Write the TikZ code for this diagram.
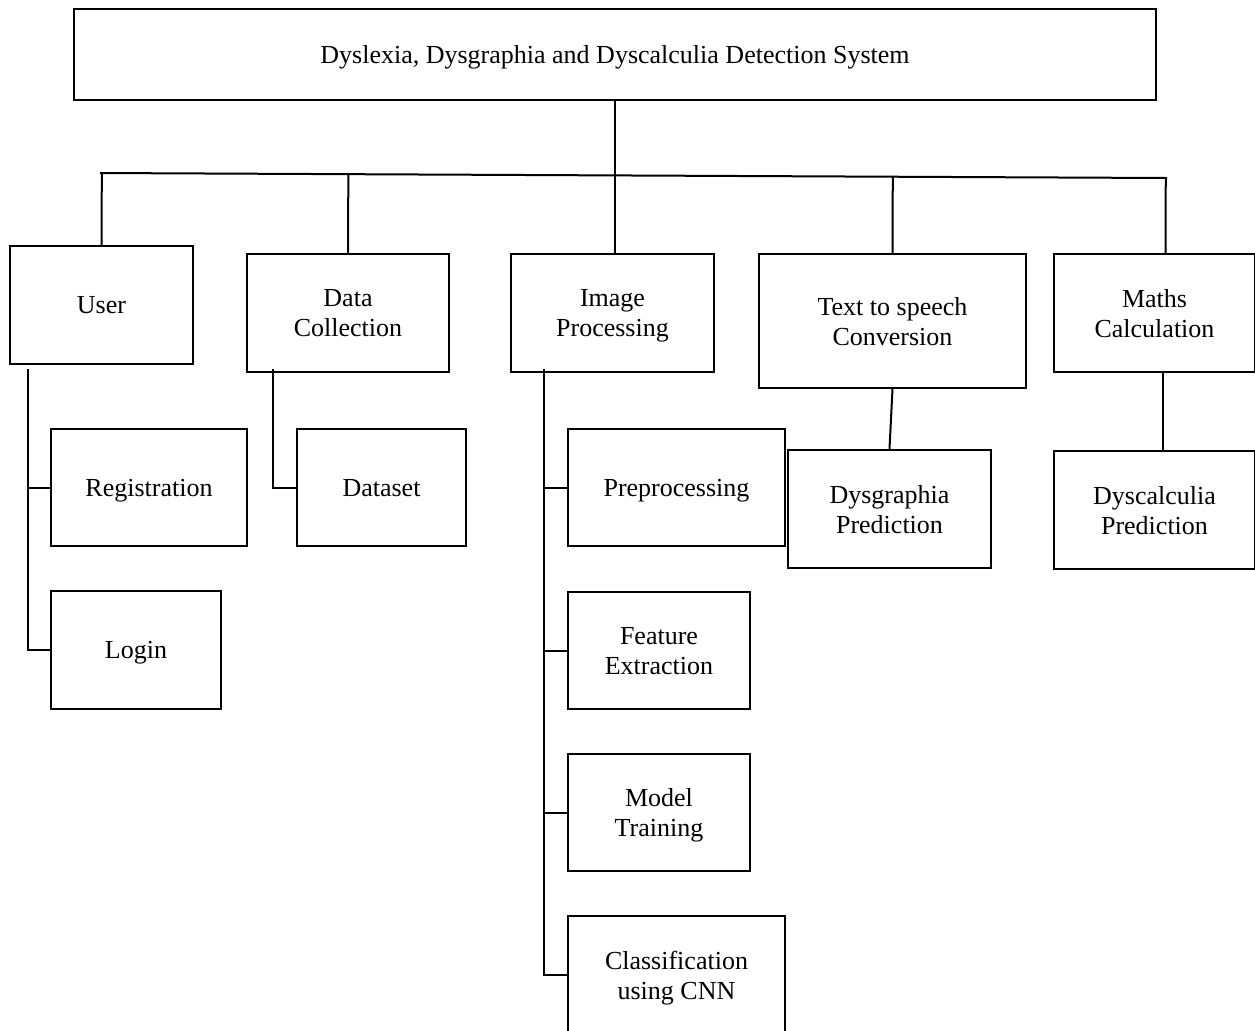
\documentclass[tikz,border=0pt]{standalone}
\usepackage{fontspec}
\setmainfont{Liberation Serif}
\usetikzlibrary{positioning, calc}
\tikzset{
  blk/.style 2 args={draw, line width=1pt, minimum width=#1*0.5pt, minimum height=#2*0.5pt,
    inner sep=0pt, text depth=0pt, align=center, font=\fontsize{13}{15}\selectfont},
  link/.style={line width=1pt}
}

\begin{document}
\begin{tikzpicture}[x=0.5pt, y=-0.5pt]
  \useasboundingbox (0,0) rectangle (1255,1030);
  \clip (0,0) rectangle (1255,1030);

  % top block
  \node[blk={1082}{91}] (title) at (615,54.5) {Dyslexia, Dysgraphia and Dyscalculia Detection System};

  % main modules
  \node[blk={183}{118}] (user) at (101.5,305) {User};
  \node[blk={202}{118}] (datacol) at (348,313) {Data\\Collection};
  \node[blk={203}{118}] (imgproc) at (612.5,313) {Image\\Processing};
  \node[blk={267}{134}] (tts) at (892.5,321) {Text to speech\\Conversion};
  \node[blk={201}{118}] (maths) at (1154.5,313) {Maths\\Calculation};

  % sub modules
  \node[blk={196}{117}] (reg) at (149,487.5) {Registration};
  \node[blk={170}{118}] (login) at (136,650) {Login};
  \node[blk={169}{117}] (dataset) at (381.5,487.5) {Dataset};
  \node[blk={217}{117}] (preproc) at (676.5,487.5) {Preprocessing};
  \node[blk={182}{117}] (feat) at (659,650.5) {Feature\\Extraction};
  \node[blk={182}{117}] (model) at (659,812.5) {Model\\Training};
  \node[blk={217}{118}] (classif) at (676.5,975) {Classification\\using CNN};
  \node[blk={203}{118}] (dysgraph) at (889.5,509) {Dysgraphia\\Prediction};
  \node[blk={201}{118}] (dyscalc) at (1154.5,510) {Dyscalculia\\Prediction};

  % bus
  \coordinate (busL) at (100,173);
  \coordinate (busR) at (1167,178);
  \draw[link] (busL) -- (busR);
  \draw[link] (title.south) -- (title.south |- imgproc.north);
  \foreach \m in {user, datacol, tts}
    \draw[link] (\m.north) -- ($(busL)!(\m.north)!(busR)$);
  \coordinate (mtop) at ($(maths.north)+(11,0)$);
  \draw[link] (mtop) -- ($(busL)!(mtop)!(busR)$);

  % user branch
  \coordinate (utop) at (28,369);
  \draw[link] (utop) |- (login.west);
  \draw[link] (reg.west) -- (reg.west -| utop);

  % data branch
  \coordinate (dtop) at (273,369);
  \draw[link] (dtop) |- (dataset.west);

  % image branch
  \coordinate (itop) at (544,369);
  \draw[link] (itop) |- (classif.west);
  \foreach \s in {preproc, feat, model}
    \draw[link] (\s.west) -- (\s.west -| itop);

  % predictions
  \draw[link] (tts.south) -- (dysgraph.north);
  \draw[link] ($(maths.south)+(8,0)$) -- ($(dyscalc.north)+(8,0)$);
\end{tikzpicture}
\end{document}
